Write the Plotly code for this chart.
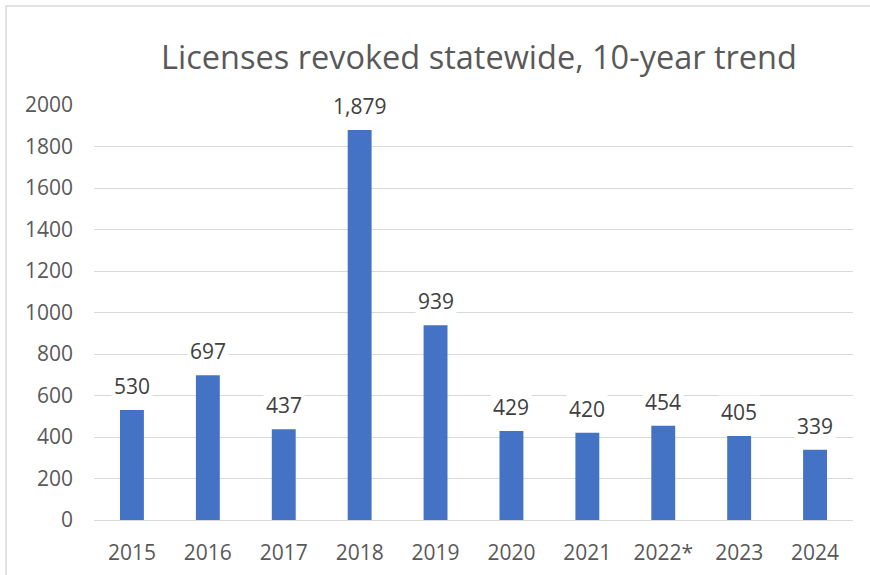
import plotly.graph_objects as go

years = ["2015", "2016", "2017", "2018", "2019", "2020", "2021", "2022*", "2023", "2024"]
revoked = [530, 697, 437, 1879, 939, 429, 420, 454, 405, 339]
y_ticks = [0, 200, 400, 600, 800, 1000, 1200, 1400, 1600, 1800, 2000]
title_text = "Licenses revoked statewide, 10-year trend"

FONT = "Open Sans, Carlito, Calibri, sans-serif"
TXT = "#595959"

fig = go.Figure()
fig.add_trace(go.Bar(
    x=years, y=revoked,
    marker=dict(color="#4472C4", line=dict(width=0)),
    width=0.315,
    hoverinfo="x+y",
))

# data labels, placed at category index so the category axis scale positions them
for i, v in enumerate(revoked):
    fig.add_annotation(
        x=i, y=v, text=f"{v:,}", showarrow=False,
        yanchor="bottom", yshift=7,
        font=dict(family=FONT, size=21, color="#404040"),
        bgcolor="white", borderpad=2,
    )

L, R, T, B = 94, 17, 105, 55
PW, PH = 870 - L - R, 575 - T - B

fig.update_layout(
    width=870, height=575,
    margin=dict(l=L, r=R, t=T, b=B, autoexpand=False),
    paper_bgcolor="white", plot_bgcolor="white",
    showlegend=False,
    title=dict(text=title_text, x=479 / 870, xanchor="center", y=1 - 58 / 575, yanchor="middle",
               font=dict(family=FONT, size=32.5, color=TXT)),
    xaxis=dict(type="category", range=[-0.5, len(years) - 0.5], showgrid=False, showline=False,
               zeroline=False, tickfont=dict(family=FONT, size=21, color=TXT),
               ticks="", ticklabelstandoff=18),
    yaxis=dict(range=[0, 2000], tickvals=y_ticks, showgrid=True, gridcolor="#D9D9D9",
               gridwidth=1, zeroline=True, zerolinecolor="#D9D9D9", zerolinewidth=1,
               showline=False, ticks="",
               tickfont=dict(family=FONT, size=21, color=TXT), ticklabelstandoff=20),
    shapes=[dict(type="rect", xref="paper", yref="paper",
                 x0=-(L - 6) / PW, x1=(870 - L + 20) / PW,
                 y0=-(B + 20) / PH, y1=(575 - B - 6) / PH,
                 line=dict(color="#D9D9D9", width=1.5), layer="below")],
)

fig.write_html("out.html", config={"displayModeBar": False},
               post_script="document.body.style.margin='0';")
